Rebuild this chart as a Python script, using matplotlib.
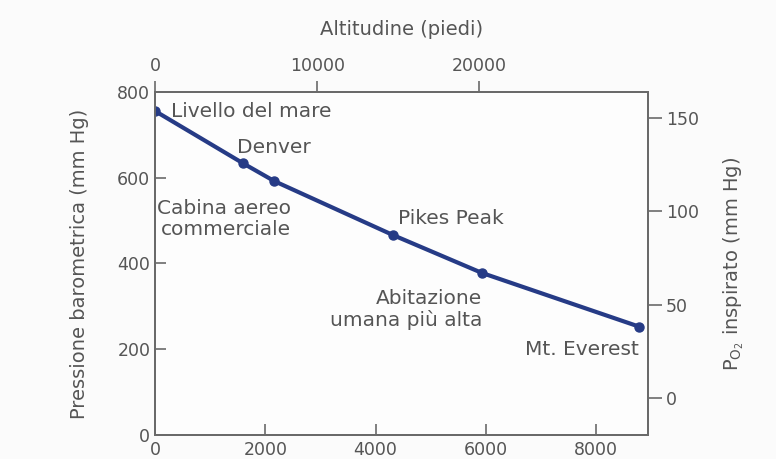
#!/usr/bin/env python3
# -*- coding: utf-8 -*-
"""
Pressione barometrica e PO2 inspirato in funzione dell'altitudine.
"""

import matplotlib
matplotlib.use("Agg")
import matplotlib.pyplot as plt

# ---- dati ----
altitudine_m = [0, 1600, 2160, 4320, 5930, 8780]
pressione_mmhg = [755, 633, 592, 466, 378, 253]

etichette = [
    "Livello del mare",
    "Denver",
    "Cabina aereo\ncommerciale",
    "Pikes Peak",
    "Abitazione\numana più alta",
    "Mt. Everest",
]
# posizione del testo (m, mm Hg) e allineamento
etichette_xy = [(290, 755), (2160, 671), (2470, 504), (5360, 505), (5940, 293), (8780, 200)]
etichette_ha = ["left", "center", "right", "center", "right", "right"]

tick_sx = [0, 200, 400, 600, 800]
tick_dx = [0, 50, 100, 150]
tick_basso = [0, 2000, 4000, 6000, 8000]
tick_alto = [0, 10000, 20000]

GRIGIO = "#555555"
SPINA = "#6a6a6a"
BLU = "#263b86"
FS_TICK = 12.5
FS_TESTO = 14.5
FS_ASSE = 14

plt.rcParams["font.family"] = ["DejaVu Sans"]

fig = plt.figure(figsize=(7.76, 4.59), dpi=100, facecolor="#fbfbfb")
ax = fig.add_axes([0.200, 0.052, 0.635, 0.748])
ax.set_facecolor("#fdfdfd")

ax.plot(altitudine_m, pressione_mmhg, color=BLU, linewidth=3,
        marker="o", markersize=6.5, solid_capstyle="round", zorder=3)

for testo, (x, y), ha in zip(etichette, etichette_xy, etichette_ha):
    ax.text(x, y, testo, ha=ha, va="center", multialignment=ha,
            fontsize=FS_TESTO, color=GRIGIO, linespacing=1.1)

ax.set_xlim(0, 8945)
ax.set_ylim(0, 800)
ax.set_xticks(tick_basso)
ax.set_yticks(tick_sx)
ax.tick_params(axis="both", direction="in", length=8, width=1.2,
               colors=SPINA, labelcolor=GRIGIO, labelsize=FS_TICK)
ax.tick_params(axis="x", pad=4)
ax.set_ylabel("Pressione barometrica (mm Hg)", fontsize=FS_ASSE, color=GRIGIO,
              labelpad=20)

# asse destro: PO2 inspirato
ax_dx = ax.twinx()
ax_dx.set_ylim(-20, 164)
ax_dx.set_yticks(tick_dx)
ax_dx.tick_params(axis="y", direction="out", length=10, width=1.2,
                  colors=SPINA, labelcolor=GRIGIO, labelsize=FS_TICK, pad=3)
ax_dx.set_ylabel(r"P$_{\mathrm{O_2}}$ inspirato (mm Hg)", fontsize=FS_ASSE,
                 color=GRIGIO, labelpad=16)

# asse superiore: altitudine in piedi
ax_su = ax.twiny()
ax_su.set_xlim(0, 30430)
ax_su.set_xticks(tick_alto)
ax_su.tick_params(axis="x", direction="out", length=8, width=1.2,
                  colors=SPINA, labelcolor=GRIGIO, labelsize=FS_TICK, pad=4)
ax_su.set_xlabel("Altitudine (piedi)", fontsize=FS_ASSE, color=GRIGIO, labelpad=16)

for a in (ax, ax_dx, ax_su):
    for s in a.spines.values():
        s.set_color(SPINA)
        s.set_linewidth(1.2)

fig.savefig("out.png", dpi=100, facecolor=fig.get_facecolor())
